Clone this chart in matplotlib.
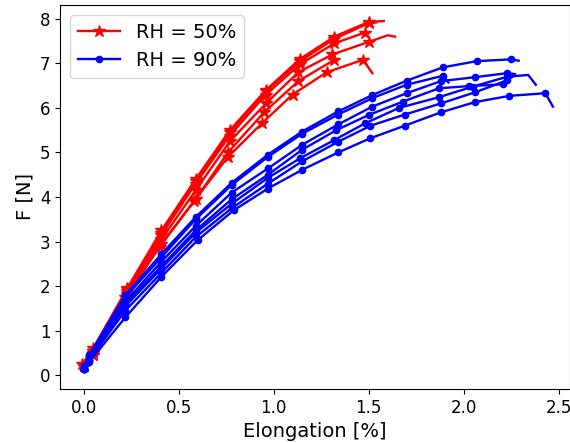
import matplotlib
matplotlib.use("Agg")
import matplotlib.pyplot as plt

# RH = 50% curves (x = elongation %, y = force N)
r1_x = [0.0, 0.05, 0.23, 0.41, 0.59, 0.77, 0.96, 1.14, 1.32, 1.50, 1.58]
r1_y = [0.20, 0.60, 1.95, 3.25, 4.40, 5.50, 6.40, 7.10, 7.60, 7.93, 7.95]
r2_x = [-0.01, 0.05, 0.23, 0.41, 0.59, 0.77, 0.96, 1.14, 1.32, 1.50, 1.54]
r2_y = [0.25, 0.55, 1.93, 3.20, 4.35, 5.45, 6.37, 7.05, 7.55, 7.90, 7.92]
r3_x = [0.0, 0.05, 0.23, 0.41, 0.59, 0.77, 0.96, 1.14, 1.32, 1.48]
r3_y = [0.20, 0.55, 1.90, 3.15, 4.30, 5.38, 6.30, 6.98, 7.45, 7.69]
r4_x = [0.0, 0.05, 0.23, 0.41, 0.59, 0.77, 0.96, 1.13, 1.31, 1.50, 1.60, 1.64]
r4_y = [0.20, 0.50, 1.85, 3.05, 4.15, 5.25, 6.10, 6.80, 7.20, 7.48, 7.63, 7.60]
r5_x = [0.0, 0.05, 0.23, 0.41, 0.59, 0.76, 0.95, 1.13, 1.32]
r5_y = [0.20, 0.45, 1.80, 2.95, 3.95, 5.00, 5.90, 6.60, 7.08]
r6_x = [0.0, 0.05, 0.22, 0.40, 0.58, 0.76, 0.94, 1.10, 1.28, 1.47, 1.52]
r6_y = [0.20, 0.45, 1.75, 2.88, 3.90, 4.90, 5.66, 6.30, 6.80, 7.08, 6.78]

# RH = 90% curves
b1_x = [0.0, 0.03, 0.22, 0.41, 0.59, 0.78, 0.97, 1.15, 1.34, 1.52, 1.70, 1.89, 2.07, 2.25, 2.29]
b1_y = [0.15, 0.45, 1.80, 2.72, 3.55, 4.32, 4.95, 5.47, 5.92, 6.29, 6.61, 6.91, 7.05, 7.09, 7.06]
b2_x = [0.0, 0.03, 0.22, 0.41, 0.59, 0.78, 0.97, 1.15, 1.34, 1.52, 1.70, 1.89, 1.92]
b2_y = [0.20, 0.45, 1.75, 2.65, 3.50, 4.27, 4.90, 5.42, 5.85, 6.22, 6.52, 6.72, 6.57]
b3_x = [0.0, 0.03, 0.22, 0.41, 0.59, 0.78, 0.97, 1.15, 1.34, 1.52, 1.70, 1.88, 2.06, 2.23, 2.27]
b3_y = [0.20, 0.40, 1.65, 2.55, 3.35, 4.10, 4.64, 5.17, 5.63, 6.03, 6.33, 6.60, 6.69, 6.78, 6.76]
b4_x = [0.0, 0.03, 0.22, 0.41, 0.59, 0.78, 0.97, 1.15, 1.33, 1.50, 1.68, 1.87, 2.03, 2.21]
b4_y = [0.15, 0.40, 1.60, 2.45, 3.25, 3.95, 4.50, 5.06, 5.50, 5.84, 6.14, 6.44, 6.49, 6.53]
b5_x = [0.0, 0.03, 0.22, 0.41, 0.59, 0.78, 0.97, 1.14, 1.32, 1.48, 1.66, 1.87, 2.05, 2.23, 2.34, 2.38]
b5_y = [0.15, 0.35, 1.55, 2.40, 3.20, 3.85, 4.43, 4.87, 5.28, 5.65, 6.00, 6.24, 6.48, 6.70, 6.74, 6.52]
b6_x = [0.0, 0.03, 0.22, 0.41, 0.59, 0.78, 0.97, 1.15, 1.34, 1.51, 1.69, 1.88, 2.06, 2.23, 2.27]
b6_y = [0.15, 0.35, 1.45, 2.30, 3.10, 3.75, 4.30, 4.80, 5.24, 5.60, 5.85, 6.10, 6.35, 6.62, 6.74]
b7_x = [0.0, 0.03, 0.22, 0.41, 0.60, 0.79, 0.97, 1.15, 1.34, 1.51, 1.69, 1.88, 2.06, 2.24, 2.43, 2.47]
b7_y = [0.15, 0.30, 1.30, 2.21, 3.03, 3.70, 4.19, 4.61, 5.00, 5.32, 5.60, 5.90, 6.13, 6.27, 6.33, 6.03]

# number of marker-bearing points at start of each curve (rest is plain tail)
red_curves = [(r1_x, r1_y, 10), (r2_x, r2_y, 10), (r3_x, r3_y, 10), (r4_x, r4_y, 10),
              (r5_x, r5_y, 9), (r6_x, r6_y, 10)]
blue_curves = [(b1_x, b1_y, 14), (b2_x, b2_y, 12), (b3_x, b3_y, 14), (b4_x, b4_y, 14),
               (b5_x, b5_y, 14), (b6_x, b6_y, 14), (b7_x, b7_y, 15)]

fig = plt.figure(figsize=(5.7, 4.43), dpi=100)
ax = fig.add_axes([60 / 570, 1 - 389 / 443, 510 / 570, 384 / 443])

for i, (x, y, n) in enumerate(red_curves):
    ax.plot(x, y, color='red', marker='*', markersize=9, lw=1.7,
            markevery=list(range(n)), label='RH = 50%' if i == 0 else None)
for i, (x, y, n) in enumerate(blue_curves):
    ax.plot(x, y, color='blue', marker='o', markersize=4.5, lw=1.7,
            markevery=list(range(n)), label='RH = 90%' if i == 0 else None)

ax.set_xlim(-0.124, 2.56)
ax.set_ylim(-0.31, 8.31)
ax.set_xticks([0.0, 0.5, 1.0, 1.5, 2.0, 2.5])
ax.set_yticks(range(0, 9))
ax.tick_params(labelsize=12)
ax.set_xlabel('Elongation [%]', fontsize=14)
ax.set_ylabel('F [N]', fontsize=14)
ax.legend(loc='upper left', fontsize=14, handlelength=2.2)

fig.savefig('out.png', dpi=100)
